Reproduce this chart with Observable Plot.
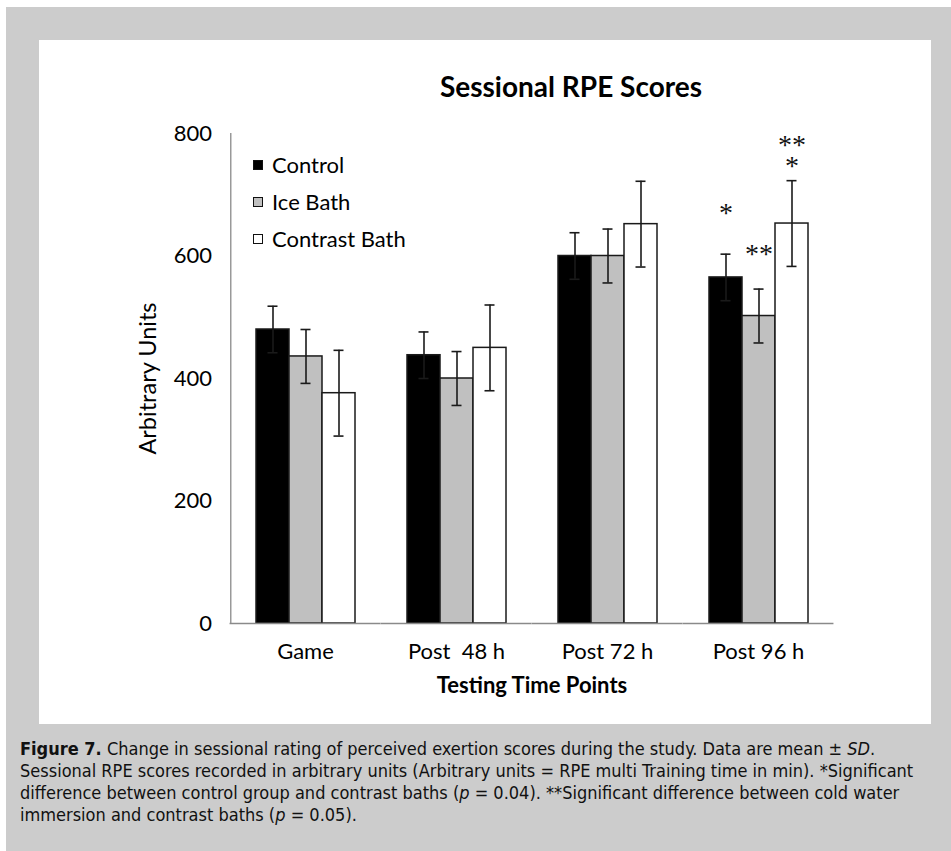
<!DOCTYPE html>
<html>
<head>
<meta charset="utf-8">
<script src="https://cdn.jsdelivr.net/npm/d3@7"></script>
<script src="https://cdn.jsdelivr.net/npm/@observablehq/plot@0.6"></script>
<style>
  html, body { margin: 0; padding: 0; background: #fff; width: 951px; height: 851px; overflow: hidden; }
  #bg { position: absolute; left: 6px; top: 7px; width: 945px; height: 844px; background: #cccccc; }
  #panel { position: absolute; left: 39px; top: 40px; width: 892px; height: 684px; background: #fff; }
  #title { position: absolute; left: 532px; top: 46px; transform: translate(-50%, -50%); font-family: Lato, sans-serif; font-weight: 700; font-size: 28px; white-space: nowrap; color: #000; }
  #legend { position: absolute; left: 214px; top: 106px; font-family: Lato, sans-serif; font-size: 22px; color: #000; }
  #legend .item { display: flex; align-items: center; height: 37px; }
  #legend .sw { width: 8px; height: 8px; border: 1.5px solid #111; margin-right: 9px; }
  #chart { position: absolute; left: 0; top: 0; }
  #chart svg [aria-label="fx-axis label"] { font-weight: 700; }
  #chart svg [aria-label="y-axis label"] { font-size: 23.5px; }
  #caption { position: absolute; left: 20px; top: 738px; width: 925px; font-family: "Liberation Sans Narrow", "Arial Narrow", "DejaVu Sans Condensed", sans-serif; font-stretch: condensed; font-size: 18px; line-height: 22px; color: #111; white-space: nowrap; }
</style>
</head>
<body>
<div id="bg"></div>
<div id="panel">
  <div id="chart"></div>
  <div id="title">Sessional RPE Scores</div>
  <div id="legend"></div>
</div>
<div id="caption"><b>Figure 7.</b> Change in sessional rating of perceived exertion scores during the study. Data are mean ± <i>SD</i>.<br>Sessional RPE scores recorded in arbitrary units (Arbitrary units = RPE multi Training time in min). *Significant<br>difference between control group and contrast baths (<i>p</i> = 0.04). **Significant difference between cold water<br>immersion and contrast baths (<i>p</i> = 0.05).</div>
<script>
// ---- data ----
const groups = ["Game", "Post\u00a0 48 h", "Post 72 h", "Post 96 h"];
const series = ["Control", "Ice Bath", "Contrast Bath"];
const seriesColors = ["#000000", "#c0c0c0", "#ffffff"];
const controlMean = [480, 438, 600, 565];
const controlSD = [38, 38, 38, 38];
const iceMean = [436, 400, 600, 502];
const iceSD = [44, 44, 44, 44];
const contrastMean = [376, 450, 652, 653];
const contrastSD = [70, 70, 70, 70];
const yTicks = [0, 200, 400, 600, 800];
// significance markers
const starGroup = ["Post 96 h", "Post 96 h", "Post 96 h"];
const starSeries = ["Control", "Ice Bath", "Contrast Bath"];
const starLabel = ["*", "**", "**\n*"];
const starY = [667, 600, 761];

// ---- build tables ----
const means = [controlMean, iceMean, contrastMean];
const sds = [controlSD, iceSD, contrastSD];
const rows = [];
groups.forEach((g, gi) => series.forEach((s, si) => rows.push({group: g, series: s, mean: means[si][gi], sd: sds[si][gi]})));
const stars = starLabel.map((l, i) => ({group: starGroup[i], series: starSeries[i], label: l, y: starY[i]}));

// legend
const legend = document.getElementById("legend");
series.forEach((s, i) => {
  const it = document.createElement("div"); it.className = "item";
  const sw = document.createElement("span"); sw.className = "sw"; sw.style.background = seriesColors[i];
  const tx = document.createElement("span"); tx.textContent = s;
  it.appendChild(sw); it.appendChild(tx); legend.appendChild(it);
});

// layout
const W = 892, H = 684, mL = 190, mR = 96, mT = 93, mB = 101;
const padIn = 0.336, padOut = 0.168;
const step = (W - mL - mR) / (groups.length - padIn + 2 * padOut);
const halfGap = padOut * step;              // distance from frame edge to first band
const seriesBand = step * (1 - padIn) / series.length;
const axisColor = "#8a8a8a";

const chart = Plot.plot({
  width: W,
  height: H,
  marginLeft: mL,
  marginRight: mR,
  marginTop: mT,
  marginBottom: mB,
  style: {fontFamily: "Lato, sans-serif", fontSize: "22px", color: "#000", background: "transparent", overflow: "visible"},
  fx: {domain: groups, paddingInner: padIn, paddingOuter: padOut, axis: null},
  x: {domain: series, padding: 0, axis: null},
  y: {domain: [0, 800], axis: null},
  color: {domain: series, range: seriesColors},
  marks: [
    Plot.barY(rows, {fx: "group", x: "series", y: "mean", fill: "series", stroke: "#1a1a1a", strokeWidth: 1.5}),
    Plot.ruleX(rows, {fx: "group", x: "series", y1: d => d.mean - d.sd, y2: d => d.mean + d.sd, stroke: "#1a1a1a", strokeWidth: 1.6}),
    Plot.tickY(rows, {fx: "group", x: "series", y: d => d.mean + d.sd, stroke: "#1a1a1a", strokeWidth: 1.6, insetLeft: 11.5, insetRight: 11.5}),
    Plot.tickY(rows, {fx: "group", x: "series", y: d => d.mean - d.sd, stroke: "#1a1a1a", strokeWidth: 1.6, insetLeft: 11.5, insetRight: 11.5}),
    Plot.text(stars, {fx: "group", x: "series", y: "y", text: "label", lineHeight: 0.75, fontFamily: "Liberation Serif, serif", fontSize: 28, fill: "#111"}),
    // x axis line (continuous across facet gaps)
    Plot.ruleY([0], {stroke: axisColor, strokeWidth: 1.3, insetLeft: -halfGap, insetRight: -halfGap}),
    // y axis line at the left edge of the frame (first facet only)
    Plot.ruleX([groups[0]], {fx: d => d, x: () => series[0], y1: () => 0, y2: () => 800, dx: -(halfGap + seriesBand / 2), stroke: axisColor, strokeWidth: 1.3}),
    Plot.axisY({ticks: yTicks, tickSize: 0, tickPadding: halfGap + 18, fontSize: 22, label: "Arbitrary Units", labelArrow: "none", labelAnchor: "center", labelOffset: halfGap + 91}),
    Plot.axisFx({anchor: "bottom", tickSize: 0, tickPadding: 20, fontSize: 22, label: "Testing Time Points", labelArrow: "none", labelAnchor: "center", labelOffset: 69})
  ]
});
document.getElementById("chart").appendChild(chart);
</script>
</body>
</html>
